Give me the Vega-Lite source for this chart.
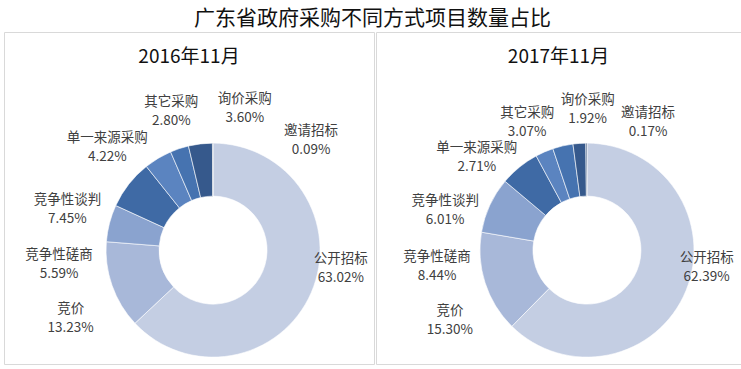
{
  "$schema": "https://vega.github.io/schema/vega-lite/v6.json",
  "padding": {"left": 3, "right": 3, "top": 7, "bottom": 3},
  "title": {"text": "广东省政府采购不同方式项目数量占比", "fontSize": 21, "font": "Noto Sans CJK SC", "fontWeight": "normal", "color": "#111111", "offset": 3, "anchor": "middle"},
  "config": {
    "view": {"stroke": "#d9d9d9", "strokeWidth": 1},
    "concat": {"spacing": 0},
    "text": {"font": "Noto Sans CJK SC"}
  },
  "data": {"values": [
    {"year": 2016, "name": "公开招标", "value": 63.02},
    {"year": 2016, "name": "竞价", "value": 13.23},
    {"year": 2016, "name": "竞争性磋商", "value": 5.59},
    {"year": 2016, "name": "竞争性谈判", "value": 7.45},
    {"year": 2016, "name": "单一来源采购", "value": 4.22},
    {"year": 2016, "name": "其它采购", "value": 2.80},
    {"year": 2016, "name": "询价采购", "value": 3.60},
    {"year": 2016, "name": "邀请招标", "value": 0.09},
    {"year": 2017, "name": "公开招标", "value": 62.39},
    {"year": 2017, "name": "竞价", "value": 15.30},
    {"year": 2017, "name": "竞争性磋商", "value": 8.44},
    {"year": 2017, "name": "竞争性谈判", "value": 6.01},
    {"year": 2017, "name": "单一来源采购", "value": 2.71},
    {"year": 2017, "name": "其它采购", "value": 3.07},
    {"year": 2017, "name": "询价采购", "value": 1.92},
    {"year": 2017, "name": "邀请招标", "value": 0.17}
  ]},
  "transform": [
    {"window": [{"op": "row_number", "as": "rank"}], "groupby": ["year"]},
    {"calculate": "[datum.name, format(datum.value, '.2f') + '%']", "as": "label"}
  ],
  "hconcat": [
    {
      "width": 370, "height": 332,
      "title": {"text": "2016年11月", "fontSize": 19, "fontWeight": "normal", "font": "Noto Sans CJK SC", "color": "#111111", "offset": -35},
      "transform": [{"filter": "datum.year == 2016"}],
      "encoding": {
        "x": {"datum": 0.565, "type": "quantitative", "scale": {"domain": [0, 1]}, "axis": null},
        "y": {"datum": 0.343, "type": "quantitative", "scale": {"domain": [0, 1]}, "axis": null}
      },
      "layer": [
        {
          "mark": {"type": "arc", "outerRadius": 107, "innerRadius": 54, "stroke": "#ffffff", "strokeWidth": 0.6},
          "encoding": {
            "theta": {"field": "value", "type": "quantitative", "stack": true},
            "order": {"field": "rank", "type": "quantitative"},
            "color": {"field": "name", "type": "nominal", "legend": null,
              "scale": {"domain": ["公开招标", "竞价", "竞争性磋商", "竞争性谈判", "单一来源采购", "其它采购", "询价采购", "邀请招标"],
                        "range": ["#c4cee3", "#a8b8d9", "#8aa3cf", "#3f6aa5", "#5b84c0", "#4673b0", "#36598c", "#2b4670"]}}
          }
        },
        {
          "mark": {"type": "text", "fontSize": 13.5, "lineHeight": 19, "color": "#404040", "baseline": "middle", "align": "center"},
          "encoding": {
            "theta": {"field": "rank", "type": "quantitative", "scale": {"domain": [1, 2, 4, 8], "range": [1.6406, 4.3215, 5.0440, 6.9726]}},
            "radius": {"field": "rank", "type": "quantitative", "scale": {"type": "linear", "zero": false, "domain": [1, 2, 8], "range": [128, 154, 154]}},
            "text": {"field": "label"}
          }
        }
      ],
      "resolve": {"scale": {"theta": "independent", "radius": "independent"}}
    },
    {
      "width": 365, "height": 332,
      "title": {"text": "2017年11月", "fontSize": 19, "fontWeight": "normal", "font": "Noto Sans CJK SC", "color": "#111111", "offset": -35},
      "transform": [{"filter": "datum.year == 2017"}],
      "encoding": {
        "x": {"datum": 0.578, "type": "quantitative", "scale": {"domain": [0, 1]}, "axis": null},
        "y": {"datum": 0.343, "type": "quantitative", "scale": {"domain": [0, 1]}, "axis": null}
      },
      "layer": [
        {
          "mark": {"type": "arc", "outerRadius": 107, "innerRadius": 54, "stroke": "#ffffff", "strokeWidth": 0.6},
          "encoding": {
            "theta": {"field": "value", "type": "quantitative", "stack": true},
            "order": {"field": "rank", "type": "quantitative"},
            "color": {"field": "name", "type": "nominal", "legend": null,
              "scale": {"domain": ["公开招标", "竞价", "竞争性磋商", "竞争性谈判", "单一来源采购", "其它采购", "询价采购", "邀请招标"],
                        "range": ["#c4cee3", "#a8b8d9", "#8aa3cf", "#3f6aa5", "#5b84c0", "#4673b0", "#36598c", "#2b4670"]}}
          }
        },
        {
          "mark": {"type": "text", "fontSize": 13.5, "lineHeight": 19, "color": "#404040", "baseline": "middle", "align": "center"},
          "encoding": {
            "theta": {"field": "rank", "type": "quantitative", "scale": {"domain": [1, 2, 4, 8], "range": [1.6406, 4.2935, 5.0440, 6.7021]}},
            "radius": {"field": "rank", "type": "quantitative", "scale": {"type": "linear", "zero": false, "domain": [1, 2, 8], "range": [120, 150, 150]}},
            "text": {"field": "label"}
          }
        }
      ],
      "resolve": {"scale": {"theta": "independent", "radius": "independent"}}
    }
  ]
}
